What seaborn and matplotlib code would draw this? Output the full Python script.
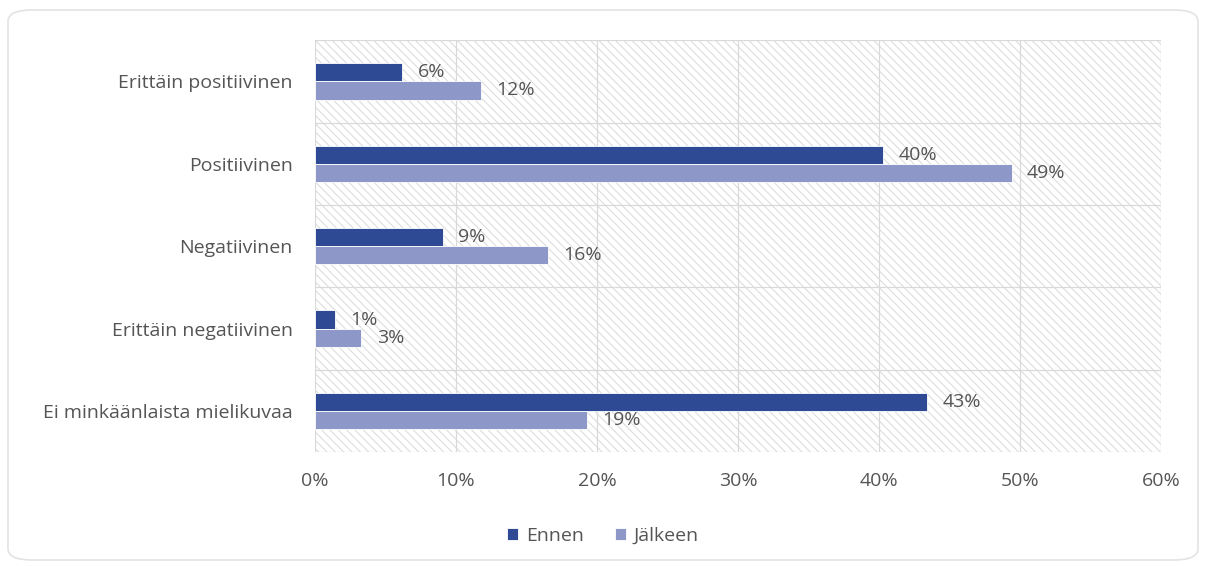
import matplotlib
matplotlib.use("Agg")
import matplotlib.pyplot as plt
import seaborn as sns
import pandas as pd
from matplotlib.patches import Rectangle, FancyBboxPatch
from matplotlib.ticker import PercentFormatter

categories = [
    "Erittäin positiivinen",
    "Positiivinen",
    "Negatiivinen",
    "Erittäin negatiivinen",
    "Ei minkäänlaista mielikuvaa",
]
series_names = ["Ennen", "Jälkeen"]
ennen = [6.2, 40.3, 9.1, 1.4, 43.4]
jalkeen = [11.8, 49.4, 16.5, 3.3, 19.3]
x_ticks = [0, 10, 20, 30, 40, 50, 60]
colors = ["#2F4A94", "#8D98C8"]

df = pd.DataFrame({
    "kategoria": categories * 2,
    "sarja": [series_names[0]] * len(categories) + [series_names[1]] * len(categories),
    "osuus": ennen + jalkeen,
})

sns.set_theme(style="white")
plt.rcParams["font.family"] = ["Open Sans", "DejaVu Sans"]
plt.rcParams["hatch.linewidth"] = 0.7

FS = 14
TXT = "#555555"

fig = plt.figure(figsize=(12.06, 5.66), dpi=100)
ax = fig.add_axes([0.261, 0.201, 0.702, 0.728])

# rounded frame around the whole chart
fig.patches.append(FancyBboxPatch(
    (8 / 1206, 6 / 566), 1190 / 1206, 550 / 566,
    boxstyle="round,pad=0,rounding_size=0.02",
    transform=fig.transFigure, facecolor="none",
    edgecolor="#e3e3e3", linewidth=1.2, zorder=0))

# diagonal hatched plot background
ax.add_patch(Rectangle((0, 0), 1, 1, transform=ax.transAxes,
                       facecolor="white", edgecolor="#d9d9d9",
                       hatch="\\\\\\\\", linewidth=0, zorder=0))

sns.barplot(data=df, x="osuus", y="kategoria", hue="sarja",
            order=categories, hue_order=series_names,
            palette=colors, saturation=1, orient="h", width=0.44, dodge=True,
            edgecolor="white", linewidth=0.6, ax=ax, zorder=3)

for cont in ax.containers:
    ax.bar_label(cont, labels=[f"{v:.0f}%" for v in cont.datavalues],
                 padding=11, fontsize=FS, color=TXT)

ax.set_xlim(0, 60)
ax.set_ylim(len(categories) - 0.5, -0.5)
ax.set_xticks(x_ticks)
ax.xaxis.set_major_formatter(PercentFormatter(decimals=0))
ax.tick_params(axis="x", length=0, pad=14, labelsize=FS, colors=TXT)
ax.tick_params(axis="y", length=0, pad=16, labelsize=FS, colors=TXT)
ax.set_xlabel("")
ax.set_ylabel("")

for x in x_ticks:
    ax.axvline(x, color="#d9d9d9", linewidth=0.9, zorder=1)
for i in range(len(categories) + 1):
    ax.axhline(i - 0.5, color="#d9d9d9", linewidth=0.9, zorder=1)

for s in ax.spines.values():
    s.set_visible(False)

handles, labels = ax.get_legend_handles_labels()
ax.legend(handles, labels, loc="center", bbox_to_anchor=(0.5, 30 / 566),
          bbox_transform=fig.transFigure, ncol=2, frameon=False,
          fontsize=FS, labelcolor=TXT, handlelength=0.55,
          handleheight=0.55, handletextpad=0.4, columnspacing=1.6)

fig.savefig("out.png", dpi=100)
